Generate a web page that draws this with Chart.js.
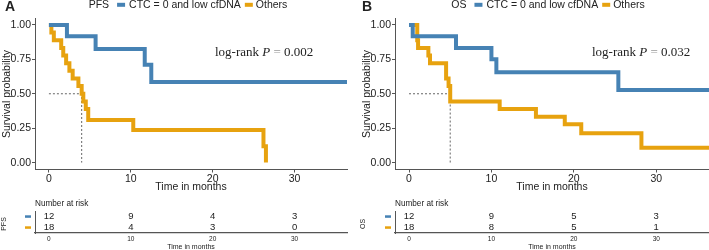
<!DOCTYPE html>
<html>
<head>
<meta charset="utf-8">
<script src="https://cdn.jsdelivr.net/npm/chart.js@4.4.1/dist/chart.umd.min.js"></script>
<style>
  body { margin: 0; background: #fff; }
  #wrap { position: relative; width: 709px; height: 250px; overflow: hidden; background: #fff; }
  .box { position: absolute; }
</style>
</head>
<body>
<div id="wrap">
  <div class="box" style="left:0;top:0;width:354px;height:195px"><canvas id="kmA"></canvas></div>
  <div class="box" style="left:0;top:195px;width:354px;height:55px"><canvas id="riskA"></canvas></div>
  <div class="box" style="left:354px;top:0;width:355px;height:195px"><canvas id="kmB"></canvas></div>
  <div class="box" style="left:354px;top:195px;width:355px;height:55px"><canvas id="riskB"></canvas></div>
</div>
<script>
// Groups and colours
const groups = ["CTC = 0 and low cfDNA", "Others"];
const groupColors = ["#4682B4", "#E7A20F"];

// Axis ticks
const timeTicks = [0, 10, 20, 30];
const timeMin = -1.7;
const timeMax = 36.4;
const survTicks = [0, 0.25, 0.5, 0.75, 1];

// PFS curves (months, survival probability)
const pfsBlueTime = [0, 2.2, 5.7, 11.7, 12.5, 36.4];
const pfsBlueSurv = [1, 0.917, 0.825, 0.71, 0.585, 0.585];
const pfsOrangeTime = [0, 0.3, 0.6, 1.5, 1.75, 2.1, 2.5, 2.9, 3.6, 4.0, 4.2, 4.5, 4.8, 10.3, 26.2, 26.5];
const pfsOrangeSurv = [1, 0.944, 0.889, 0.833, 0.778, 0.722, 0.667, 0.611, 0.556, 0.5, 0.444, 0.389, 0.31, 0.236, 0.118, 0];
const pfsMedian = 4.0;

// OS curves
const osBlueTime = [0, 0.45, 5.7, 10.0, 10.6, 25.4, 36.4];
const osBlueSurv = [1, 0.917, 0.833, 0.75, 0.656, 0.527, 0.527];
const osOrangeTime = [0, 1.0, 1.1, 2.35, 2.55, 4.5, 4.8, 5.0, 11.0, 15.4, 18.9, 20.9, 28.2, 36.4];
const osOrangeSurv = [1, 0.889, 0.833, 0.778, 0.722, 0.611, 0.556, 0.444, 0.389, 0.333, 0.278, 0.213, 0.108, 0.108];
const osMedian = 5.0;

// Number at risk
const riskTimes = [0, 10, 20, 30];
const pfsRiskBlue = [12, 9, 4, 3];
const pfsRiskOrange = [18, 4, 3, 0];
const osRiskBlue = [12, 9, 5, 3];
const osRiskOrange = [18, 8, 5, 1];

const FONT = '"Liberation Sans", Arial, sans-serif';
const AXIS = "#555";
const INK = "#222";

function toPoints(xs, ys) {
  return xs.map((x, i) => ({ x: x, y: ys[i] }));
}

// Kaplan-Meier panel
function makeKM(id, cfg) {
  const off = cfg.offset;
  const textPlugin = {
    id: "kmText" + id,
    afterDraw(chart) {
      const ctx = chart.ctx;
      const area = chart.chartArea;
      ctx.save();
      ctx.fillStyle = INK;

      // panel letter
      ctx.font = "bold 14px " + FONT;
      ctx.textBaseline = "middle";
      ctx.textAlign = "left";
      ctx.fillText(cfg.letter, cfg.letterX + off, 7);

      // legend
      ctx.font = "10.5px " + FONT;
      const wTitle = ctx.measureText(cfg.strata).width;
      const w0 = ctx.measureText(groups[0]).width;
      const w1 = ctx.measureText(groups[1]).width;
      const total = wTitle + 8 + 8 + 4 + w0 + 4 + 8 + 3 + w1;
      let x = 188 + off - total / 2;
      const ly = 4.8;
      ctx.fillText(cfg.strata, x, ly);
      x += wTitle + 8;
      ctx.fillStyle = groupColors[0];
      ctx.fillRect(x, ly - 2, 8, 4);
      x += 12;
      ctx.fillStyle = INK;
      ctx.fillText(groups[0], x, ly);
      x += w0 + 4;
      ctx.fillStyle = groupColors[1];
      ctx.fillRect(x, ly - 2, 8, 4);
      x += 11;
      ctx.fillStyle = INK;
      ctx.fillText(groups[1], x, ly);

      // axis titles
      ctx.textAlign = "center";
      ctx.fillText("Time in months", (area.left + area.right) / 2, 187);
      ctx.save();
      ctx.translate(7 + off, 94);
      ctx.rotate(-Math.PI / 2);
      ctx.fillText("Survival probability", 0, 0);
      ctx.restore();

      // log-rank p value
      ctx.textAlign = "left";
      ctx.textBaseline = "alphabetic";
      let px = cfg.pX + off;
      const py = 56;
      ctx.font = '13px "Liberation Serif", "Times New Roman", serif';
      ctx.fillText("log-rank ", px, py);
      px += ctx.measureText("log-rank ").width;
      ctx.font = 'italic 13px "Liberation Serif", "Times New Roman", serif';
      ctx.fillText("P", px, py);
      px += ctx.measureText("P").width;
      ctx.font = '13px "Liberation Serif", "Times New Roman", serif';
      ctx.fillStyle = "#999";
      ctx.fillText(" = ", px, py);
      px += ctx.measureText(" = ").width;
      ctx.fillStyle = INK;
      ctx.fillText(cfg.pValue, px, py);
      ctx.restore();
    }
  };

  return new Chart(document.getElementById(id), {
    type: "line",
    data: {
      datasets: [
        {
          data: [{ x: 0, y: 0.5 }, { x: cfg.median, y: 0.5 }, { x: cfg.median, y: 0 }],
          borderColor: "#666",
          borderWidth: 1,
          borderDash: [2, 2],
          pointRadius: 0,
          order: 3
        },
        {
          data: toPoints(cfg.orangeTime, cfg.orangeSurv),
          borderColor: groupColors[1],
          borderWidth: 4,
          stepped: "before",
          pointRadius: 0,
          borderCapStyle: "butt",
          borderJoinStyle: "miter",
          order: 2
        },
        {
          data: toPoints(cfg.blueTime, cfg.blueSurv),
          borderColor: groupColors[0],
          borderWidth: 4,
          stepped: "before",
          pointRadius: 0,
          borderCapStyle: "butt",
          borderJoinStyle: "miter",
          order: 1
        }
      ]
    },
    options: {
      responsive: true,
      maintainAspectRatio: false,
      animation: false,
      devicePixelRatio: 1,
      layout: { padding: { top: 18, right: cfg.padRight, left: 0, bottom: 0 } },
      plugins: { legend: { display: false }, tooltip: { enabled: false } },
      scales: {
        x: {
          type: "linear",
          min: timeMin,
          max: timeMax,
          afterBuildTicks: (s) => { s.ticks = timeTicks.map((v) => ({ value: v })); },
          afterFit: (s) => { s.height = 25.5; },
          grid: { drawOnChartArea: false, drawTicks: true, tickLength: 3, color: AXIS },
          border: { color: AXIS, width: 1 },
          ticks: { padding: 0, maxRotation: 0, color: INK, font: { family: FONT, size: 10.5 }, callback: (v) => String(v) }
        },
        y: {
          type: "linear",
          min: -0.05,
          max: 1.05,
          afterBuildTicks: (s) => { s.ticks = survTicks.map((v) => ({ value: v })); },
          afterFit: (s) => { s.width = 35 + off; },
          grid: { drawOnChartArea: false, drawTicks: true, tickLength: 3, color: AXIS },
          border: { color: AXIS, width: 1 },
          ticks: { padding: 1, color: INK, font: { family: FONT, size: 10.5 }, callback: (v) => Number(v).toFixed(2) }
        }
      }
    },
    plugins: [textPlugin]
  });
}

// Number-at-risk table
function makeRisk(id, cfg) {
  const off = cfg.offset;
  const riskPlugin = {
    id: "risk" + id,
    afterDatasetsDraw(chart) {
      const ctx = chart.ctx;
      const area = chart.chartArea;
      const yScale = chart.scales.y;
      ctx.save();
      ctx.fillStyle = INK;
      ctx.textBaseline = "middle";

      // counts
      ctx.font = "9.5px " + FONT;
      ctx.textAlign = "center";
      chart.data.datasets.forEach((ds, di) => {
        chart.getDatasetMeta(di).data.forEach((pt, i) => {
          ctx.fillText(String(ds.counts[i]), pt.x, pt.y);
        });
      });

      // colour keys beside each row
      groups.forEach((g, i) => {
        ctx.fillStyle = groupColors[i];
        ctx.fillRect(25 + off, yScale.getPixelForValue(i) - 1.2, 6, 2.5);
      });

      ctx.fillStyle = INK;
      ctx.textAlign = "left";
      ctx.font = "8.2px " + FONT;
      ctx.fillText("Number at risk", area.left, 8.3);

      ctx.textAlign = "center";
      ctx.font = "7px " + FONT;
      ctx.fillText("Time in months", (area.left + area.right) / 2, 51.7);

      ctx.save();
      ctx.translate(cfg.strataX + off, 29);
      ctx.rotate(-Math.PI / 2);
      ctx.fillText(cfg.strata, 0, 0);
      ctx.restore();
      ctx.restore();
    }
  };

  return new Chart(document.getElementById(id), {
    type: "scatter",
    data: {
      datasets: [
        { data: riskTimes.map((t) => ({ x: t, y: groups[0] })), counts: cfg.blue, pointRadius: 0 },
        { data: riskTimes.map((t) => ({ x: t, y: groups[1] })), counts: cfg.orange, pointRadius: 0 }
      ]
    },
    options: {
      responsive: true,
      maintainAspectRatio: false,
      animation: false,
      devicePixelRatio: 1,
      layout: { padding: { top: 16, right: cfg.padRight, left: 0, bottom: 0 } },
      plugins: { legend: { display: false }, tooltip: { enabled: false } },
      scales: {
        x: {
          type: "linear",
          min: timeMin,
          max: timeMax,
          afterBuildTicks: (s) => { s.ticks = timeTicks.map((v) => ({ value: v })); },
          afterFit: (s) => { s.height = 17; },
          grid: { drawOnChartArea: false, drawTicks: false },
          border: { color: AXIS, width: 1.2 },
          ticks: { padding: 2.5, maxRotation: 0, color: INK, font: { family: FONT, size: 6.5 }, callback: (v) => String(v) }
        },
        y: {
          type: "category",
          labels: groups,
          offset: true,
          afterFit: (s) => { s.width = 35 + off; },
          grid: { display: false },
          border: { color: AXIS, width: 1 },
          ticks: { display: false }
        }
      }
    },
    plugins: [riskPlugin]
  });
}

makeKM("kmA", {
  letter: "A", letterX: 5, strata: "PFS", pX: 215, pValue: "0.002", padRight: 7, offset: 0,
  blueTime: pfsBlueTime, blueSurv: pfsBlueSurv,
  orangeTime: pfsOrangeTime, orangeSurv: pfsOrangeSurv, median: pfsMedian
});
makeKM("kmB", {
  letter: "B", letterX: 2, strata: "OS", pX: 232, pValue: "0.032", padRight: 0, offset: 6,
  blueTime: osBlueTime, blueSurv: osBlueSurv,
  orangeTime: osOrangeTime, orangeSurv: osOrangeSurv, median: osMedian
});
makeRisk("riskA", { strata: "PFS", strataX: 4.5, blue: pfsRiskBlue, orange: pfsRiskOrange, padRight: 7, offset: 0 });
makeRisk("riskB", { strata: "OS", strataX: 3, blue: osRiskBlue, orange: osRiskOrange, padRight: 0, offset: 6 });
</script>
</body>
</html>
